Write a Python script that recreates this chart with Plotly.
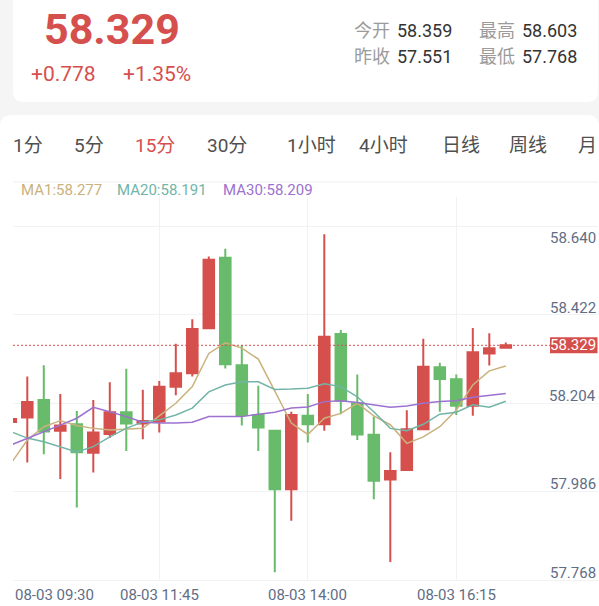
import plotly.graph_objects as go

# ---------------- data ----------------
X_INDEX = list(range(31))  # 15-minute bars, 08-03 09:30 ... 17:00
OPEN = [58.140, 58.151, 58.194, 58.118, 58.134, 58.064, 58.110, 58.164, 58.136, 58.141,
        58.227, 58.260, 58.371, 58.545, 58.280, 58.157, 58.118, 57.974, 58.155, 58.134,
        58.357, 58.186, 58.108, 57.998, 58.021, 58.122, 58.275, 58.245, 58.180, 58.309, 58.323]
HIGH = [58.152, 58.252, 58.280, 58.209, 58.167, 58.194, 58.238, 58.271, 58.219, 58.241,
        58.333, 58.393, 58.548, 58.567, 58.330, 58.229, 58.120, 58.165, 58.209, 58.603,
        58.367, 58.257, 58.153, 58.065, 58.169, 58.345, 58.286, 58.257, 58.372, 58.359, 58.336]
LOW = [58.135, 58.040, 58.060, 57.999, 57.929, 58.015, 58.100, 58.068, 58.097, 58.114,
       58.206, 58.252, 58.369, 58.272, 58.131, 58.068, 57.769, 57.896, 58.089, 58.118,
       58.159, 58.095, 57.949, 57.794, 58.021, 58.122, 58.165, 58.157, 58.155, 58.279, 58.323]
CLOSE = [58.147, 58.189, 58.116, 58.131, 58.065, 58.114, 58.164, 58.136, 58.142, 58.227,
         58.260, 58.369, 58.540, 58.282, 58.157, 58.126, 57.974, 58.157, 58.134, 58.350,
         58.192, 58.109, 57.995, 58.019, 58.122, 58.276, 58.246, 58.180, 58.312, 58.322, 58.329]
MA1 = [58.037, 58.095, 58.128, 58.143, 58.131, 58.124, 58.120, 58.122, 58.124, 58.155,
       58.186, 58.227, 58.309, 58.335, 58.322, 58.295, 58.214, 58.137, 58.109, 58.149,
       58.161, 58.186, 58.155, 58.133, 58.087, 58.103, 58.128, 58.169, 58.231, 58.266, 58.278]
MA20 = [58.116, 58.100, 58.091, 58.079, 58.066, 58.079, 58.103, 58.124, 58.140, 58.145,
        58.157, 58.174, 58.214, 58.231, 58.239, 58.239, 58.220, 58.221, 58.223, 58.234,
        58.227, 58.202, 58.165, 58.124, 58.118, 58.134, 58.159, 58.164, 58.182, 58.176, 58.191]
MA30 = [58.083, 58.100, 58.116, 58.132, 58.149, 58.176, 58.165, 58.153, 58.139, 58.137,
        58.137, 58.139, 58.153, 58.153, 58.153, 58.159, 58.164, 58.174, 58.177, 58.190,
        58.192, 58.188, 58.182, 58.176, 58.179, 58.186, 58.190, 58.192, 58.201, 58.206, 58.210]

Y_TICK_VALUES = [57.768, 57.986, 58.204, 58.422, 58.640]
X_TICK_INDEX = [0, 9, 18, 27]
X_TICK_TEXT = ["08-03 09:30", "08-03 11:45", "08-03 14:00", "08-03 16:15"]

LAST_PRICE = 58.329
CHANGE_TEXT = "+0.778"
CHANGE_PCT_TEXT = "+1.35%"
STAT_LABELS = ["今开", "最高", "昨收", "最低"]
STAT_VALUES = ["58.359", "58.603", "57.551", "57.768"]
PERIODS = ["1分", "5分", "15分", "30分", "1小时", "4小时", "日线", "周线", "月"]
ACTIVE_PERIOD = "15分"
MA_NAMES = ["MA1", "MA20", "MA30"]
MA_LAST = [58.277, 58.191, 58.209]

# ---------------- style ----------------
W, H = 599, 606
PL, PR, PT, PB = 13, 598, 197, 580          # plot area in pixels
RED = "#d5504d"
GREEN = "#68bb6a"
MA_COLORS = ["#c9b27c", "#72b5a8", "#9c71d0"]
AXIS_TEXT = "#5f6d85"
GRID = "#f1f2f4"
BG = "#f5f5f6"
FONT = "Roboto, 'Noto Sans CJK SC', sans-serif"
GRID_LAG = 0.018   # grid lines sit a little below their price labels

SLOT_PX = 16.5       # pixel width of one bar slot
FIRST_PX = 10.8      # pixel centre of bar 0
x_lo = (PL - FIRST_PX) / SLOT_PX
x_hi = (PR - FIRST_PX) / SLOT_PX
PX_PER_UNIT = 405.2
LAST_PX = 345.3
y_hi = LAST_PRICE + (LAST_PX - PT) / PX_PER_UNIT
y_lo = LAST_PRICE - (PB - LAST_PX) / PX_PER_UNIT


def px_x(px):
    return (px - PL) / (PR - PL)


def px_y(py):
    return (PB - py) / (PB - PT)


fig = go.Figure()

fig.add_trace(go.Candlestick(
    x=X_INDEX, open=OPEN, high=HIGH, low=LOW, close=CLOSE,
    increasing=dict(line=dict(color=RED, width=2), fillcolor=RED),
    decreasing=dict(line=dict(color=GREEN, width=2), fillcolor=GREEN),
    whiskerwidth=0, showlegend=False, hoverinfo="skip",
))
for name, vals, col in zip(MA_NAMES, [MA1, MA20, MA30], MA_COLORS):
    fig.add_trace(go.Scatter(x=X_INDEX, y=vals, mode="lines", name=name,
                             line=dict(color=col, width=1.5), showlegend=False,
                             hoverinfo="skip"))

shapes = []


def rrect(x0, y0, x1, y1, r):
    X0, X1 = px_x(x0), px_x(x1)
    Y0, Y1 = px_y(y0), px_y(y1)
    rx = r / (PR - PL)
    ry = r / (PB - PT)
    return (f"M{X0+rx},{Y0} L{X1-rx},{Y0} Q{X1},{Y0} {X1},{Y0-ry} "
            f"L{X1},{Y1+ry} Q{X1},{Y1} {X1-rx},{Y1} L{X0+rx},{Y1} "
            f"Q{X0},{Y1} {X0},{Y1+ry} L{X0},{Y0-ry} Q{X0},{Y0} {X0+rx},{Y0} Z")


# background cards
shapes.append(dict(type="path", xref="paper", yref="paper", path=rrect(13, -30, 598, 102, 11),
                   fillcolor="white", line=dict(width=0), layer="below"))
shapes.append(dict(type="path", xref="paper", yref="paper", path=rrect(0, 115, 599, 640, 12),
                   fillcolor="white", line=dict(width=0), layer="below"))
# separator under the period tabs
shapes.append(dict(type="line", xref="paper", yref="paper", x0=px_x(13), x1=px_x(598),
                   y0=px_y(182), y1=px_y(182), line=dict(color="#eeeeee", width=1)))
# current price dotted line and tag
tag_left = 550
shapes.append(dict(type="line", xref="paper", yref="y", x0=0, x1=px_x(tag_left),
                   y0=LAST_PRICE, y1=LAST_PRICE, line=dict(color=RED, width=1, dash="2px,2px"),
                   layer="above"))
shapes.append(dict(type="rect", xref="paper", yref="y", ysizemode="pixel", yanchor=LAST_PRICE,
                   x0=px_x(tag_left), x1=px_x(597.5), y0=-8, y1=8,
                   fillcolor=RED, line=dict(width=0), layer="above"))

ann = []
# header
ann.append(dict(text=f"{LAST_PRICE:.3f}", x=px_x(111.5), y=px_y(28.5), xref="paper", yref="paper",
                xanchor="center", yanchor="middle", showarrow=False,
                font=dict(size=43, color=RED, family=FONT, weight=700)))
ann.append(dict(text=CHANGE_TEXT, x=px_x(29), y=px_y(73.5), xref="paper", yref="paper",
                xanchor="left", yanchor="middle", showarrow=False,
                font=dict(size=21, color=RED, family=FONT)))
ann.append(dict(text=CHANGE_PCT_TEXT, x=px_x(121), y=px_y(73.5), xref="paper", yref="paper",
                xanchor="left", yanchor="middle", showarrow=False,
                font=dict(size=21, color=RED, family=FONT)))
stat_pos = [(352, 30.5), (477, 30.5), (352, 56), (477, 56)]
for lab, val, (sx, sy) in zip(STAT_LABELS, STAT_VALUES, stat_pos):
    ann.append(dict(text=lab, x=px_x(sx), y=px_y(sy), xref="paper", yref="paper",
                    xanchor="left", yanchor="middle", showarrow=False,
                    font=dict(size=18, color="#9b9b9b", family=FONT)))
    ann.append(dict(text=val, x=px_x(sx + 43), y=px_y(sy), xref="paper", yref="paper",
                    xanchor="left", yanchor="middle", showarrow=False,
                    font=dict(size=18, color="#333333", family=FONT)))
# period tabs
tab_x = [11, 72, 133, 205, 285, 357, 440, 507, 576]
for p, tx in zip(PERIODS, tab_x):
    ann.append(dict(text=p, x=px_x(tx), y=px_y(146), xref="paper", yref="paper",
                    xanchor="left", yanchor="middle", showarrow=False,
                    font=dict(size=19, color=RED if p == ACTIVE_PERIOD else "#505050", family=FONT)))
# MA legend
ma_x = [19, 115, 221]
for n, v, c, mx in zip(MA_NAMES, MA_LAST, MA_COLORS, ma_x):
    ann.append(dict(text=f"{n}:{v:.3f}", x=px_x(mx), y=px_y(190), xref="paper", yref="paper",
                    xanchor="left", yanchor="middle", showarrow=False,
                    font=dict(size=15, color=c, family=FONT)))
# y labels (inside, right)
grid_vals = [v - GRID_LAG for v in Y_TICK_VALUES]
top_grid = max(grid_vals)
for v in Y_TICK_VALUES:
    if v > top_grid:
        ann.append(dict(text=f"{v:.3f}", x=1, y=top_grid, xref="paper", yref="y",
                        xanchor="right", yanchor="top", showarrow=False,
                        font=dict(size=15, color=AXIS_TEXT, family=FONT)))
    else:
        ann.append(dict(text=f"{v:.3f}", x=1, y=v, xref="paper", yref="y",
                        xanchor="right", yanchor="middle", showarrow=False,
                        font=dict(size=15, color=AXIS_TEXT, family=FONT)))
# last price tag text
ann.append(dict(text=f"{LAST_PRICE:.3f}", x=px_x(598), y=LAST_PRICE, xref="paper", yref="y",
                xanchor="right", yanchor="middle", showarrow=False,
                font=dict(size=15, color="white", family=FONT)))
# x labels
for i, t in zip(X_TICK_INDEX, X_TICK_TEXT):
    if i < x_lo + 2.5:
        ann.append(dict(text=t, x=0, y=px_y(595), xref="paper", yref="paper",
                        xanchor="left", yanchor="middle", showarrow=False,
                        font=dict(size=15, color=AXIS_TEXT, family=FONT)))
    else:
        ann.append(dict(text=t, x=i, y=px_y(595), xref="x", yref="paper",
                        xanchor="center", yanchor="middle", showarrow=False,
                        font=dict(size=15, color=AXIS_TEXT, family=FONT)))

fig.update_layout(
    width=W, height=H,
    margin=dict(l=PL, r=W - PR, t=PT, b=H - PB, autoexpand=False),
    paper_bgcolor=BG, plot_bgcolor="white",
    font=dict(family=FONT),
    showlegend=False,
    boxgap=0.36, boxgroupgap=0,
    shapes=shapes, annotations=ann,
    xaxis=dict(range=[x_lo, x_hi], tickvals=X_TICK_INDEX, showticklabels=False,
               showgrid=True, gridcolor=GRID, gridwidth=1, zeroline=False,
               showline=True, linecolor=GRID, linewidth=1, ticks="",
               rangeslider=dict(visible=False), fixedrange=True),
    yaxis=dict(range=[y_lo, y_hi], tickvals=grid_vals, showticklabels=False,
               showgrid=True, gridcolor=GRID, gridwidth=1, zeroline=False,
               showline=False, ticks="", fixedrange=True),
)

fig.write_html("out.html", config={"displayModeBar": False, "staticPlot": True},
               post_script="document.body.style.margin='0';document.body.style.overflow='hidden';")
